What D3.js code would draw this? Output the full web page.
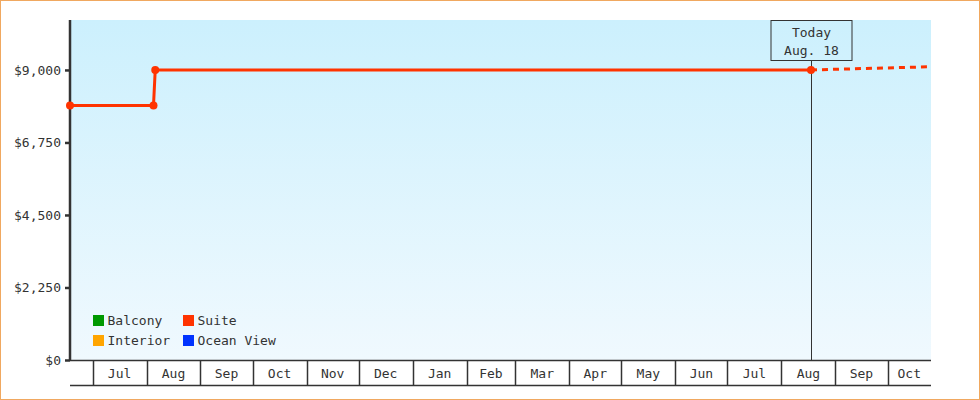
<!DOCTYPE html>
<html>
<head>
<meta charset="utf-8">
<script src="https://cdn.jsdelivr.net/npm/d3@7"></script>
<style>
  body { margin: 0; background: #fff; }
  svg text { font-family: "DejaVu Sans Mono", monospace; font-size: 13px; fill: #333; }
</style>
</head>
<body>
<script>
// Suite price history (solid) and projection (dashed)
const suiteDates = ["2014-06-18", "2014-08-05", "2014-08-06", "2015-08-18"];
const suiteValues = [7900, 7900, 9000, 9000];
const projDates = ["2015-08-18", "2015-10-26"];
const projValues = [9000, 9100];

const yTicks = [0, 2250, 4500, 6750, 9000];
const monthTicks = ["2014-07-01", "2014-08-01", "2014-09-01", "2014-10-01", "2014-11-01", "2014-12-01",
  "2015-01-01", "2015-02-01", "2015-03-01", "2015-04-01", "2015-05-01", "2015-06-01",
  "2015-07-01", "2015-08-01", "2015-09-01", "2015-10-01"];
const todayDate = "2015-08-18";
const todayLabel = ["Today", "Aug. 18"];

const legendNames = ["Balcony", "Interior", "Suite", "Ocean View"];
const legendColors = ["#009900", "#ffa500", "#ff3300", "#0033ff"];

const parse = d3.timeParse("%Y-%m-%d");
const W = 980, H = 400;
const m = { left: 70, right: 931, top: 20, bottom: 360, axis: 385 };

const svg = d3.select("body").append("svg").attr("width", W).attr("height", H);

// page border
svg.append("rect").attr("x", 0.5).attr("y", 0.5).attr("width", W - 1).attr("height", H - 1)
  .attr("fill", "#fff").attr("stroke", "#f0a860");

const x = d3.scaleTime().domain([parse("2014-06-18"), parse("2015-10-26")]).range([m.left, m.right]);
const y = d3.scaleLinear().domain([0, 10550]).range([m.bottom, m.top]);

// background gradient
const grad = svg.append("defs").append("linearGradient").attr("id", "bg")
  .attr("x1", 0).attr("y1", 0).attr("x2", 0).attr("y2", 1);
grad.append("stop").attr("offset", "0%").attr("stop-color", "#ccf0fd");
grad.append("stop").attr("offset", "100%").attr("stop-color", "#f0f9fe");
svg.append("rect").attr("x", m.left).attr("y", m.top).attr("width", m.right - m.left).attr("height", m.bottom - m.top)
  .attr("fill", "url(#bg)");

// x axis: month bands
const months = monthTicks.map(parse);
const xg = svg.append("g");
xg.selectAll("line.div").data(months).enter().append("line")
  .attr("x1", d => Math.round(x(d)) + 0.5).attr("x2", d => Math.round(x(d)) + 0.5)
  .attr("y1", m.bottom).attr("y2", m.axis)
  .attr("stroke", "#333").attr("stroke-width", 1.5);
xg.append("line").attr("x1", m.left).attr("x2", m.right).attr("y1", m.bottom + 0.5).attr("y2", m.bottom + 0.5)
  .attr("stroke", "#333").attr("stroke-width", 1.5);
xg.append("line").attr("x1", m.left).attr("x2", m.right).attr("y1", m.axis + 0.5).attr("y2", m.axis + 0.5)
  .attr("stroke", "#333").attr("stroke-width", 1.5);
xg.selectAll("text").data(months).enter().append("text")
  .attr("x", (d, i) => {
    const end = i + 1 < months.length ? x(months[i + 1]) : m.right;
    return (x(d) + end) / 2;
  })
  .attr("y", m.bottom + 18)
  .attr("text-anchor", "middle")
  .text(d => d3.timeFormat("%b")(d));

// y axis
const yAxis = d3.axisLeft(y).tickValues(yTicks).tickSize(5).tickPadding(4)
  .tickFormat(d => "$" + d3.format(",")(d));
const yg = svg.append("g").attr("transform", `translate(${m.left},0)`).call(yAxis);
yg.select(".domain").remove();
yg.selectAll(".tick line").attr("stroke", "#333").attr("stroke-width", 2.5);
yg.selectAll(".tick text").attr("font-family", null).attr("font-size", null);
svg.append("line").attr("x1", m.left).attr("x2", m.left).attr("y1", m.top).attr("y2", m.bottom + 1)
  .attr("stroke", "#333").attr("stroke-width", 2.5);

// today marker
const tx = Math.round(x(parse(todayDate))) + 0.5;
svg.append("line").attr("x1", tx).attr("x2", tx).attr("y1", 60).attr("y2", m.bottom)
  .attr("stroke", "#333").attr("stroke-width", 1);
svg.append("rect").attr("x", tx - 40.5).attr("y", 20.5).attr("width", 81).attr("height", 40)
  .attr("fill", "none").attr("stroke", "#333").attr("stroke-width", 1);
svg.selectAll("text.today").data(todayLabel).enter().append("text").attr("class", "today")
  .attr("x", tx).attr("y", (d, i) => 37 + i * 18).attr("text-anchor", "middle").text(d => d);

// suite line
const suite = suiteDates.map((d, i) => ({ date: parse(d), value: suiteValues[i] }));
const proj = projDates.map((d, i) => ({ date: parse(d), value: projValues[i] }));
const line = d3.line().x(d => x(d.date)).y(d => y(d.value));
svg.append("path").datum(proj).attr("d", line).attr("fill", "none")
  .attr("stroke", "#ff3300").attr("stroke-width", 3).attr("stroke-dasharray", "6,5");
svg.append("path").datum(suite).attr("d", line).attr("fill", "none")
  .attr("stroke", "#ff3300").attr("stroke-width", 3);
svg.selectAll("circle.pt").data(suite).enter().append("circle")
  .attr("cx", d => x(d.date)).attr("cy", d => y(d.value)).attr("r", 4)
  .attr("fill", "#ff3300");

// legend
const lg = svg.append("g");
legendNames.forEach((name, i) => {
  const col = Math.floor(i / 2), row = i % 2;
  const lx = 93 + col * 90, ly = 315 + row * 20;
  lg.append("rect").attr("x", lx).attr("y", ly).attr("width", 11).attr("height", 11)
    .attr("fill", legendColors[i]);
  lg.append("text").attr("x", lx + 14.5).attr("y", ly + 10).text(name);
});
</script>
</body>
</html>
